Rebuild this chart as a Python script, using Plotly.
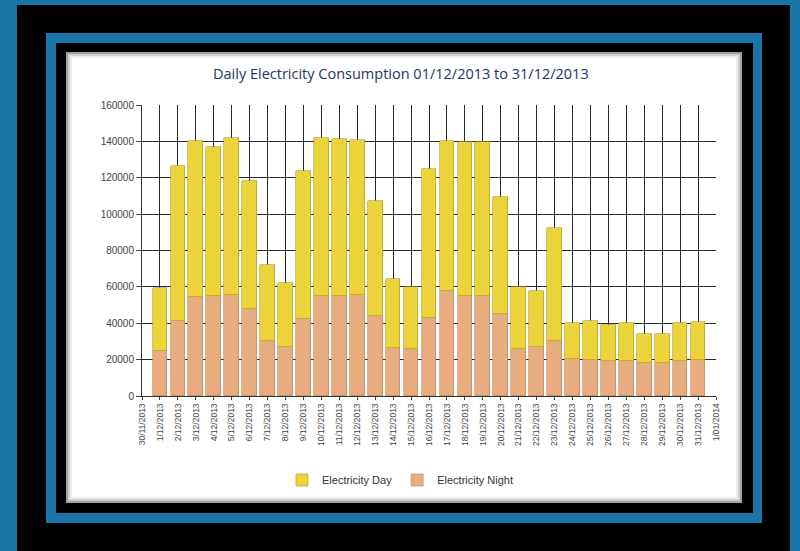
import plotly.graph_objects as go

# ---------------- data ----------------
dates = ["30/11/2013"] + [f"{d}/12/2013" for d in range(1, 32)] + ["1/01/2014"]
night = [None,
         25000, 41000, 54500, 55200, 55700, 47900, 30100, 27000, 42600, 55200,
         55200, 55300, 43800, 26500, 26100, 43000, 58000, 54800, 55200, 45300,
         26100, 26800, 30100, 20100, 19700, 19500, 19500, 18300, 18300, 19500,
         19800,
         None]
day = [None,
       34500, 85500, 85500, 81800, 86300, 70100, 41900, 35300, 81100, 86800,
       86300, 85400, 63400, 37800, 33900, 81800, 82400, 84700, 84600, 64300,
       33900, 31200, 62400, 20100, 21300, 19400, 20500, 16000, 15700, 20800,
       21000,
       None]
y_ticks = [0, 20000, 40000, 60000, 80000, 100000, 120000, 140000, 160000]
y_tick_labels = ["0", "20000", "40000", "60000", "80000", "100000", "120000", "140000", "160000"]
title_text = "Daily Electricity Consumption 01/12/2013 to 31/12/2013"

# ---------------- layout geometry (pixels) ----------------
W, H = 800, 551
PL, PR, PT, PB = 142, 716, 105, 396  # plot area in pixels


def px(x):
    return (x - PL) / (PR - PL)


def py(y):
    return (PB - y) / (PB - PT)


idx = list(range(len(dates)))

fig = go.Figure()
fig.add_trace(go.Bar(
    x=idx, y=night, name="Electricity Night", width=0.82,
    marker=dict(color="#E9AC7E", line=dict(color="#B8845E", width=0.6)),
    legendrank=2,
))
fig.add_trace(go.Bar(
    x=idx, y=day, name="Electricity Day", width=0.82,
    marker=dict(color="#EBD339", line=dict(color="#A8962A", width=0.6)),
    legendrank=1,
))

shapes = []


def rect(x0, y0, x1, y1, fill=None, line=None, lw=0):
    shapes.append(dict(
        type="rect", xref="paper", yref="paper", layer="below",
        x0=px(x0), x1=px(x1), y0=py(y1), y1=py(y0),
        fillcolor=fill if fill else "rgba(0,0,0,0)",
        line=dict(color=line if line else "rgba(0,0,0,0)", width=lw),
    ))


rect(17, 5, 790, 560, fill="#000000")
rect(46, 33, 762, 523, fill="#1A76A9")
rect(56, 43, 753, 513, fill="#000000")
rect(66, 52, 742, 503, fill="#FFFFFF")
# soft shadow at panel edges
rect(67, 53, 741, 502, line="#A0A0A0", lw=2)
rect(69, 55, 739, 500, line="#D0D0D0", lw=2)
rect(71, 57, 737, 498, line="#EEEEEE", lw=2)

fig.update_layout(
    width=W, height=H,
    margin=dict(l=PL, r=W - PR, t=PT, b=H - PB, autoexpand=False),
    paper_bgcolor="#1A76A9",
    plot_bgcolor="rgba(0,0,0,0)",
    barmode="stack",
    bargap=0,
    shapes=shapes,
    showlegend=True,
    legend=dict(
        orientation="h", x=px(400), xanchor="center", y=py(480), yanchor="middle",
        font=dict(family="Liberation Sans, Arial, sans-serif", size=11, color="#333333"),
        bgcolor="rgba(0,0,0,0)", itemwidth=30, traceorder="normal",
    ),
    annotations=[dict(
        text=title_text, xref="paper", yref="paper", x=px(401), y=py(74),
        xanchor="center", yanchor="middle", showarrow=False,
        font=dict(family="Open Sans, sans-serif", size=14.5, color="#1E3366"),
    )],
    xaxis=dict(
        range=[0, 32], tickmode="array", tickvals=idx, ticktext=dates,
        tickangle=-90, ticks="outside", ticklen=3, tickcolor="#444444",
        tickfont=dict(family="Liberation Sans, Arial, sans-serif", size=8.5, color="#444444"),
        showgrid=True, gridcolor="#2A2A2A", gridwidth=1,
        showline=True, linecolor="#333333", linewidth=1,
        zeroline=False, fixedrange=True,
    ),
    yaxis=dict(
        range=[0, 160000], tickmode="array", tickvals=y_ticks, ticktext=y_tick_labels,
        ticks="outside", ticklen=5, tickcolor="#444444",
        tickfont=dict(family="Liberation Sans, Arial, sans-serif", size=10, color="#444444"),
        showgrid=True, gridcolor="#2A2A2A", gridwidth=1,
        showline=True, linecolor="#333333", linewidth=1,
        zeroline=False, fixedrange=True,
    ),
)

fig.write_html("out.html")
